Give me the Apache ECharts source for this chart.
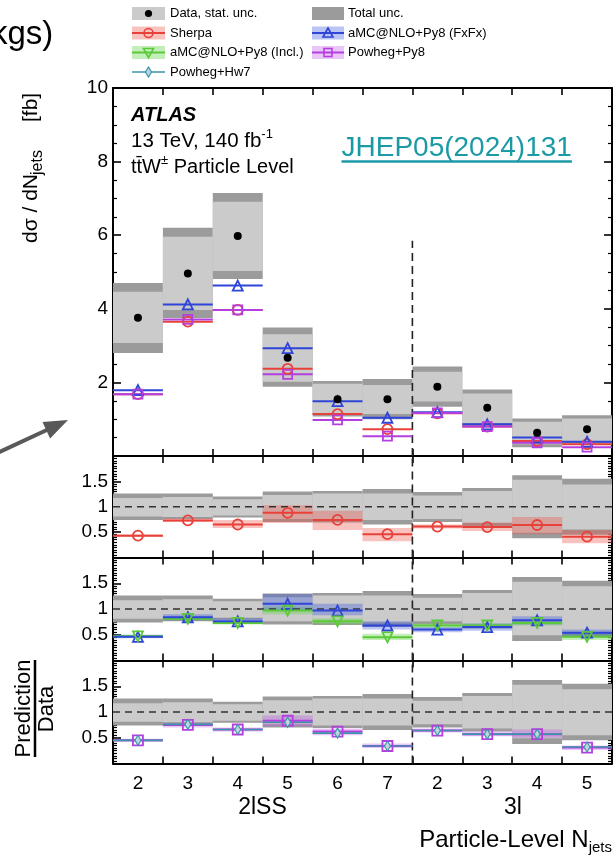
<!DOCTYPE html>
<html><head><meta charset="utf-8">
<script src="https://cdn.jsdelivr.net/npm/echarts@6/dist/echarts.min.js"></script>
<style>html,body{margin:0;padding:0;background:#fff}#c{width:615px;height:858px}</style>
</head><body><div id="c"></div>
<script>
// ---------------- data ----------------
const categories = ['2','3','4','5','6','7','2','3','4','5'];
const nSS = 6; // number of 2lSS bins
const regionLabels = ['2lSS','3l'];

// main panel, dσ/dNjets [fb]
const dataVal = [3.76,4.96,5.98,2.67,1.54,1.54,1.88,1.31,0.63,0.73];
const statHi  = [4.46,5.96,6.91,3.31,1.96,1.93,2.29,1.70,0.93,1.02];
const statLo  = [3.07,3.97,5.03,2.02,1.14,1.14,1.48,0.90,0.32,0.40];
const totHi   = [4.70,6.20,7.15,3.49,2.04,2.09,2.43,1.81,1.02,1.11];
const totLo   = [2.80,3.75,4.81,1.88,1.07,1.00,1.34,0.82,0.24,0.33];
const sherpaMain = [1.68,3.65,3.97,2.37,1.14,0.73,1.16,0.80,0.41,0.32];
const fxfxMain   = [1.79,4.12,4.63,2.93,1.49,1.04,1.19,0.86,0.50,0.39];
const powPy8Main = [1.68,3.71,3.97,2.22,0.98,0.54,1.17,0.80,0.36,0.24];

// ratio panels: data uncertainty bands
const ratioTotHi  = [1.26,1.26,1.20,1.30,1.31,1.35,1.29,1.37,1.62,1.55];
const ratioStatHi = [1.17,1.19,1.15,1.23,1.26,1.26,1.22,1.31,1.53,1.44];
const ratioStatLo = [0.81,0.80,0.83,0.76,0.74,0.74,0.76,0.68,0.49,0.55];
const ratioTotLo  = [0.74,0.76,0.79,0.70,0.69,0.65,0.70,0.62,0.38,0.45];
// Sherpa / data
const sherpaRatio   = [0.43,0.73,0.65,0.88,0.74,0.46,0.61,0.60,0.64,0.41];
const sherpaRatioLo = [0.41,0.70,0.58,0.68,0.54,0.32,0.57,0.52,0.46,0.28];
const sherpaRatioHi = [0.46,0.77,0.74,1.03,0.92,0.58,0.65,0.69,0.80,0.54];
// aMC@NLO+Py8 (FxFx) / data
const fxfxRatio   = [0.46,0.84,0.76,1.10,0.97,0.68,0.60,0.65,0.78,0.54];
const fxfxRatioLo = [0.43,0.78,0.72,0.97,0.88,0.60,0.55,0.58,0.70,0.48];
const fxfxRatioHi = [0.50,0.90,0.82,1.29,1.10,0.76,0.65,0.72,0.86,0.60];
// aMC@NLO+Py8 (Incl.) / data
const inclRatio   = [0.47,0.81,0.73,0.97,0.76,0.45,0.68,0.68,0.73,0.46];
const inclRatioLo = [0.44,0.78,0.70,0.90,0.70,0.40,0.62,0.64,0.68,0.40];
const inclRatioHi = [0.50,0.84,0.76,1.05,0.82,0.52,0.72,0.72,0.78,0.52];
// Powheg+Py8 / data
const powPy8Ratio   = [0.45,0.75,0.66,0.83,0.62,0.34,0.64,0.57,0.57,0.31];
const powPy8RatioLo = [0.42,0.70,0.62,0.72,0.55,0.30,0.60,0.53,0.50,0.26];
const powPy8RatioHi = [0.48,0.79,0.70,0.93,0.68,0.39,0.68,0.62,0.66,0.35];
// Powheg+Hw7 / data
const hw7Ratio = [0.45,0.76,0.66,0.80,0.59,0.34,0.64,0.57,0.57,0.32];

// ---------------- styles ----------------
const FONT = '"Liberation Sans", Arial, Helvetica, sans-serif';
const C = {
  stat:'#cbcbcb', tot:'#9b9b9b',
  red:'#e8413a', redB:'rgba(235,80,70,0.35)',
  blue:'#2f45d8', blueB:'rgba(60,90,220,0.35)',
  green:'#5bc93a', greenB:'rgba(100,210,70,0.38)',
  mag:'#b43fe0', magB:'rgba(190,80,230,0.33)',
  teal:'#3a95a8', tealF:'#bcd6e2'
};

const mctx = document.createElement('canvas').getContext('2d');
function tw(t, size, weight, style){ mctx.font = (style||'normal')+' '+(weight||'normal')+' '+size+'px '+FONT; return mctx.measureText(t).width; }
function txt(t, x, y, size, opt){
  opt = opt||{};
  return {type:'text', x:x, y:y, silent:true, style:{text:t, fontSize:size, fontFamily:FONT,
    fontWeight:opt.weight||'normal', fontStyle:opt.style||'normal', fill:opt.color||'#000',
    textAlign:opt.align||'left', align:opt.align||'left', textVerticalAlign:'middle', verticalAlign:'middle'}};
}
function run(parts, x, y, align){
  const w = parts.map(p=>tw(p.t,p.size,p.weight,p.style));
  const total = w.reduce((a,b)=>a+b,0);
  let cx = align==='right' ? x-total : (align==='center' ? x-total/2 : x);
  return parts.map((p,k)=>{ const el = txt(p.t, cx, y+(p.dy||0), p.size, p); cx += w[k]; return el; });
}

// ---------------- layout ----------------
const grids = [
  {left:113, right:3, top:88, height:368},
  {left:113, right:3, top:456, height:101.5},
  {left:113, right:3, top:557.5, height:103},
  {left:113, right:3, top:660.5, height:103}
].map(g=>Object.assign(g,{outerBoundsMode:'none', containLabel:false}));

function xAx(gi, pos, showLabel){
  return {type:'category', gridIndex:gi, position:pos, data:categories, boundaryGap:true,
    axisLine:{show:true, onZero:false, lineStyle:{color:'#000', width:2}},
    axisTick:{show:true, inside:true, length:7, interval:0, alignWithLabel:false, lineStyle:{color:'#000', width:1.6}},
    axisLabel:{show:showLabel, interval:0, fontSize:19, fontFamily:FONT, color:'#000', margin:11},
    splitLine:{show:false}};
}
function yAx(gi, pos, min, max, interval, minorSplit, fmt, showLabel){
  return {type:'value', gridIndex:gi, position:pos, min:min, max:max, interval:interval,
    axisLine:{show:true, onZero:false, lineStyle:{color:'#000', width:2}},
    axisTick:{show:true, inside:true, length:8, lineStyle:{color:'#000', width:1.6}},
    minorTick:{show:true, splitNumber:minorSplit, length:4, lineStyle:{color:'#000', width:1.2}},
    splitLine:{show:false}, minorSplitLine:{show:false},
    axisLabel:{show:showLabel, formatter:fmt, fontSize:19, fontFamily:FONT, color:'#000', margin:5}};
}
const mainFmt = v => v===0 ? '' : String(v);
const ratioFmt = v => (v===0 || v===2) ? '' : String(v);

const xAxes = [], yAxes = [];
for (let gi=0; gi<4; gi++){
  xAxes.push(xAx(gi,'bottom', gi===3));
  xAxes.push(xAx(gi,'top', false));
  if (gi===0){
    yAxes.push(yAx(gi,'left',0,10,2,4,mainFmt,true));
    yAxes.push(yAx(gi,'right',0,10,2,4,mainFmt,false));
  } else {
    yAxes.push(yAx(gi,'left',0,2,0.5,10,ratioFmt,true));
    yAxes.push(yAx(gi,'right',0,2,0.5,10,ratioFmt,false));
  }
}

// ---------------- series ----------------
const S = [];
function add(gi, s){ s.xAxisIndex = 2*gi; s.yAxisIndex = 2*gi; s.animation = false; s.silent = true; S.push(s); }
function boxSeries(gi, lo, hi, color, z){
  add(gi, {type:'custom', z:z, encode:{x:0, y:[1,2]}, data: lo.map((v,i)=>[i, v, hi[i]]),
    renderItem:(p,api)=>{ const i=api.value(0); const a=api.coord([i, api.value(2)]); const b=api.coord([i, api.value(1)]); const w=api.size([1,0])[0];
      return {type:'rect', shape:{x:a[0]-w/2, y:a[1], width:w, height:b[1]-a[1]}, style:{fill:color}}; }});
}
function hlineSeries(gi, vals, color, width, z){
  add(gi, {type:'custom', z:z, encode:{x:0, y:1}, data: vals.map((v,i)=>[i, v]),
    renderItem:(p,api)=>{ const i=api.value(0); const c=api.coord([i, api.value(1)]); const w=api.size([1,0])[0];
      return {type:'line', shape:{x1:c[0]-w/2, y1:c[1], x2:c[0]+w/2, y2:c[1]}, style:{stroke:color, lineWidth:width}}; }});
}
function markerSeries(gi, vals, symbol, size, color, fill, rotate, z, bw){
  add(gi, {type:'scatter', z:z, symbol:symbol, symbolSize:size, symbolRotate:rotate||0,
    itemStyle:{color:fill, borderColor:color, borderWidth:(bw===undefined?1.8:bw), opacity:1},
    emphasis:{disabled:true}, data: vals.map((v,i)=>[i, v])});
}
function vdash(gi, lo, hi){
  add(gi, {type:'custom', z:4, encode:{x:0, y:[1,2]}, data:[[nSS, lo, hi]],
    renderItem:(p,api)=>{ const a=api.coord([api.value(0), api.value(1)]); const b=api.coord([api.value(0), api.value(2)]); const w=api.size([1,0])[0];
      return {type:'line', shape:{x1:a[0]-w/2, y1:a[1], x2:a[0]-w/2, y2:b[1]}, style:{stroke:'#222', lineWidth:1.6, lineDash:[8,5]}}; }});
}
function unity(gi){
  add(gi, {type:'custom', z:4, encode:{x:0, y:1}, data:[[0, 1]],
    renderItem:(p,api)=>{ const a=api.coord([0, api.value(1)]); const b=api.coord([categories.length-1, api.value(1)]); const w=api.size([1,0])[0];
      return {type:'line', shape:{x1:a[0]-w/2, y1:a[1], x2:b[0]+w/2, y2:b[1]}, style:{stroke:'#333', lineWidth:1.6, lineDash:[7,5]}}; }});
}
const T = 'rgba(0,0,0,0)';

// main panel
boxSeries(0, totLo, totHi, C.tot, 1);
boxSeries(0, statLo, statHi, C.stat, 2);
vdash(0, 0, 5.85);
hlineSeries(0, sherpaMain, C.red, 2, 5);
hlineSeries(0, fxfxMain, C.blue, 2, 5);
hlineSeries(0, powPy8Main, C.mag, 2, 5);
markerSeries(0, sherpaMain, 'circle', 10, C.red, T, 0, 6);
markerSeries(0, fxfxMain, 'triangle', 10, C.blue, T, 0, 6);
markerSeries(0, powPy8Main, 'rect', 9, C.mag, T, 0, 6);
markerSeries(0, dataVal, 'circle', 8, '#000', '#000', 0, 7, 0);

// ratio panels: common bands
for (let gi=1; gi<=3; gi++){
  boxSeries(gi, ratioTotLo, ratioTotHi, C.tot, 1);
  boxSeries(gi, ratioStatLo, ratioStatHi, C.stat, 2);
  unity(gi);
  vdash(gi, 0, 2);
}
// ratio 1: Sherpa
boxSeries(1, sherpaRatioLo, sherpaRatioHi, C.redB, 3);
hlineSeries(1, sherpaRatio, C.red, 2, 5);
markerSeries(1, sherpaRatio, 'circle', 10, C.red, T, 0, 6);
// ratio 2: FxFx and Incl
boxSeries(2, inclRatioLo, inclRatioHi, C.greenB, 3);
boxSeries(2, fxfxRatioLo, fxfxRatioHi, C.blueB, 3);
hlineSeries(2, inclRatio, C.green, 2, 5);
hlineSeries(2, fxfxRatio, C.blue, 2, 5);
markerSeries(2, fxfxRatio, 'triangle', 10, C.blue, T, 0, 6);
markerSeries(2, inclRatio, 'triangle', 10, C.green, T, 180, 6);
// ratio 3: Powheg+Py8 and Powheg+Hw7
boxSeries(3, powPy8RatioLo, powPy8RatioHi, C.magB, 3);
hlineSeries(3, powPy8Ratio, C.mag, 2, 5);
hlineSeries(3, hw7Ratio, C.teal, 1.6, 5);
markerSeries(3, powPy8Ratio, 'rect', 10, C.mag, T, 0, 6);
markerSeries(3, hw7Ratio, 'diamond', [6,10], C.teal, C.tealF, 0, 7, 1.2);

// ---------------- graphics (legend, labels) ----------------
const G = [];
// partial slide text and arrow at the left
G.push(txt('kgs)', -9, 35, 33));
G.push({type:'line', silent:true, shape:{x1:-5, y1:454, x2:50, y2:428.5}, style:{stroke:'#595959', lineWidth:4}});
G.push({type:'polygon', silent:true, shape:{points:[[68,420],[50.1,438.4],[42.5,422.0]]}, style:{fill:'#595959'}});

// legend
const L1 = 132, L2 = 312, LW = 33, T1 = 170, T2 = 348;
const rows = [13.5, 33, 52.5, 72];
function lrect(x, cy, w, color){ G.push({type:'rect', silent:true, shape:{x:x, y:cy-6.5, width:w, height:13}, style:{fill:color}}); }
function lline(x, cy, w, color, lw){ G.push({type:'line', silent:true, shape:{x1:x, y1:cy, x2:x+w, y2:cy}, style:{stroke:color, lineWidth:lw||2}}); }
lrect(L1, rows[0], LW, C.stat);
G.push({type:'circle', silent:true, shape:{cx:L1+LW/2, cy:rows[0], r:3.6}, style:{fill:'#000'}});
lrect(L2, rows[0], LW-1, C.tot);
// Sherpa
lrect(L1, rows[1], LW, C.redB); lline(L1, rows[1], LW, C.red);
G.push({type:'circle', silent:true, shape:{cx:L1+LW/2, cy:rows[1], r:4.5}, style:{fill:T, stroke:C.red, lineWidth:1.6}});
// FxFx
lrect(L2, rows[1], LW-1, C.blueB); lline(L2, rows[1], LW-1, C.blue);
(function(){ const cx=L2+(LW-1)/2, cy=rows[1]; G.push({type:'polygon', silent:true, shape:{points:[[cx,cy-5],[cx+5,cy+4],[cx-5,cy+4]]}, style:{fill:T, stroke:C.blue, lineWidth:1.6}}); })();
// Incl
lrect(L1, rows[2], LW, C.greenB); lline(L1, rows[2], LW, C.green);
(function(){ const cx=L1+LW/2, cy=rows[2]; G.push({type:'polygon', silent:true, shape:{points:[[cx,cy+5],[cx+5,cy-4],[cx-5,cy-4]]}, style:{fill:T, stroke:C.green, lineWidth:1.6}}); })();
// Powheg+Py8
lrect(L2, rows[2], LW-1, C.magB); lline(L2, rows[2], LW-1, C.mag);
G.push({type:'rect', silent:true, shape:{x:L2+(LW-1)/2-4, y:rows[2]-4, width:8, height:8}, style:{fill:T, stroke:C.mag, lineWidth:1.6}});
// Powheg+Hw7
lline(L1, rows[3], LW, C.teal, 1.6);
(function(){ const cx=L1+LW/2, cy=rows[3]; G.push({type:'polygon', silent:true, shape:{points:[[cx,cy-5],[cx+3,cy],[cx,cy+5],[cx-3,cy]]}, style:{fill:C.tealF, stroke:C.teal, lineWidth:1.2}}); })();
// legend texts
const legendNames = [['Data, stat. unc.','Total unc.'],['Sherpa','aMC@NLO+Py8 (FxFx)'],['aMC@NLO+Py8 (Incl.)','Powheg+Py8'],['Powheg+Hw7','']];
legendNames.forEach((r,k)=>{ if(r[0]) G.push(txt(r[0], T1, rows[k], 13)); if(r[1]) G.push(txt(r[1], T2, rows[k], 13)); });

// ATLAS labels
G.push(txt('ATLAS', 131, 115, 20, {weight:'bold', style:'italic'}));
run([{t:'13 TeV, 140 fb', size:20.5},{t:'-1', size:13, dy:-7}], 131, 141, 'left').forEach(e=>G.push(e));
run([{t:'tt\u0304W', size:20},{t:'\u00b1', size:13, dy:-7},{t:' Particle Level', size:20}], 131, 167, 'left').forEach(e=>G.push(e));

// JHEP reference
const jhep = 'JHEP05(2024)131';
G.push(txt(jhep, 341.5, 148, 28, {color:'#1b9aa6'}));
G.push({type:'line', silent:true, shape:{x1:341.5, y1:161.5, x2:341.5+tw(jhep,28), y2:161.5}, style:{stroke:'#1b9aa6', lineWidth:2.5}});

// y-axis title (rotated)
G.push({type:'group', x:31, y:243, rotation:Math.PI/2, silent:true, children:[
  txt('d\u03c3 / dN', 0, 0, 21),
  txt('jets', 68, 7, 16),
  txt('[fb]', 121, 0, 21)
]});
// ratio title
G.push({type:'group', x:24, y:708.5, rotation:Math.PI/2, silent:true, children:[ txt('Prediction', 0, 0, 22, {align:'center'}) ]});
G.push({type:'line', silent:true, shape:{x1:35, y1:660, x2:35, y2:757}, style:{stroke:'#000', lineWidth:2.5}});
G.push({type:'group', x:47, y:709, rotation:Math.PI/2, silent:true, children:[ txt('Data', 0, 0, 22, {align:'center'}) ]});

// region labels and x title
G.push(txt(regionLabels[0], 262.5, 808, 23, {align:'center'}));
G.push(txt(regionLabels[1], 513, 808, 23, {align:'center'}));
run([{t:'Particle-Level N', size:24},{t:'jets', size:15, dy:8}], 612, 840, 'right').forEach(e=>G.push(e));

const chart = echarts.init(document.getElementById('c'), null, {renderer:'canvas', width:615, height:858});
chart.setOption({
  backgroundColor:'#fff',
  animation:false,
  grid: grids,
  xAxis: xAxes,
  yAxis: yAxes,
  series: S,
  graphic: {elements: G}
});
</script>
</body></html>
